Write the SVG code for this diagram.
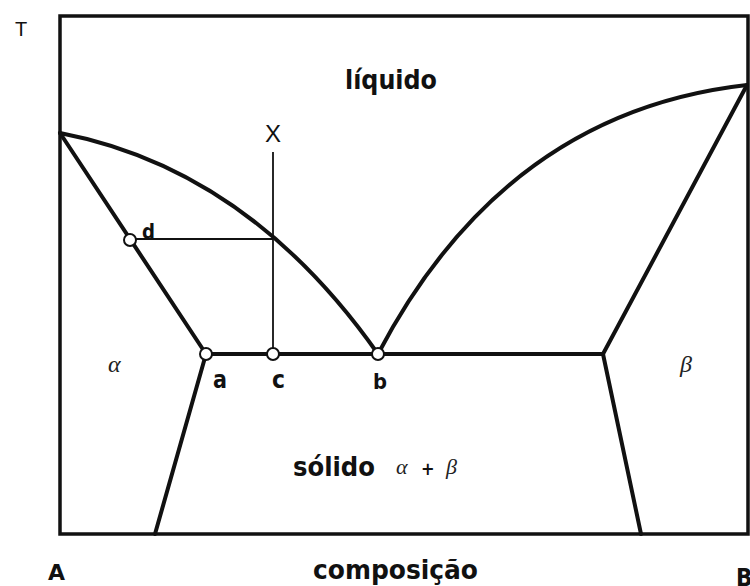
<svg xmlns="http://www.w3.org/2000/svg" width="750" height="586" viewBox="0 0 750 586">
<style>
.thick{fill:none;stroke:#111;stroke-width:4;stroke-linecap:round;stroke-linejoin:round}
.frame{fill:none;stroke:#111;stroke-width:3.5}
.thin{fill:none;stroke:#111;stroke-width:1.8}
.pt{fill:#fff;stroke:#111;stroke-width:2}
.lbl{font-family:"DejaVu Sans Condensed","DejaVu Sans",sans-serif;font-weight:bold;fill:#111}
.greek{font-family:"Liberation Serif",serif;font-style:italic;fill:#222}
.plain{font-family:"Liberation Sans",sans-serif;fill:#111}
</style>
<rect width="750" height="586" fill="#fff"/>
<g id="frame">
<path class="frame" d="M60,16 H748 V534 H60 Z"/>
</g>
<g id="connectors">
<path id="liquidus-left" class="thick" d="M60,133 Q248,169 378,354"/>
<path id="liquidus-right" class="thick" d="M378,354 Q505,112 747,85"/>
<path id="solidus-left" class="thick" d="M60,133 L206,354"/>
<path id="solidus-right" class="thick" d="M603,354 L747,85"/>
<path id="eutectic" class="thick" d="M206,354 H603"/>
<path id="solvus-left" class="thick" d="M206,354 L155,534"/>
<path id="solvus-right" class="thick" d="M603,354 L641,534"/>
<path id="x-line" class="thin" d="M273,152 V354"/>
<path id="tie-line" class="thin" d="M130,239 H273"/>
</g>
<g id="point-d"><circle class="pt" cx="130" cy="240" r="6"/><text class="lbl" x="142" y="239" font-size="22" textLength="13" lengthAdjust="spacingAndGlyphs">d</text></g>
<g id="point-a"><circle class="pt" cx="206" cy="354" r="6"/><text class="lbl" x="213" y="388" font-size="24" textLength="14" lengthAdjust="spacingAndGlyphs">a</text></g>
<g id="point-c"><circle class="pt" cx="273" cy="354" r="6"/><text class="lbl" x="272" y="388" font-size="24" textLength="13" lengthAdjust="spacingAndGlyphs">c</text></g>
<g id="point-b"><circle class="pt" cx="378" cy="354" r="6"/><text class="lbl" x="373" y="389" font-size="22" textLength="14" lengthAdjust="spacingAndGlyphs">b</text></g>
<g id="label-x"><text class="plain" x="273" y="142" font-size="24" text-anchor="middle">X</text></g>
<g id="label-liquido"><text class="lbl" x="345" y="89" font-size="26" textLength="92" lengthAdjust="spacingAndGlyphs">líquido</text></g>
<g id="label-alpha"><text class="greek" x="108" y="372" font-size="24">α</text></g>
<g id="label-beta"><text class="greek" x="680" y="372" font-size="24">β</text></g>
<g id="label-solido"><text class="lbl" x="293" y="476" font-size="26" textLength="82" lengthAdjust="spacingAndGlyphs">sólido</text><text class="greek" x="396" y="474" font-size="22">α</text><text class="lbl" x="421" y="475" font-size="18">+</text><text class="greek" x="446" y="474" font-size="22">β</text></g>
<g id="axis-labels">
<text class="plain" x="15" y="36" font-size="20">T</text>
<text class="lbl" x="48" y="580" font-size="22" textLength="17" lengthAdjust="spacingAndGlyphs">A</text>
<text class="lbl" x="313" y="579" font-size="26" textLength="165" lengthAdjust="spacingAndGlyphs">composição</text>
<text class="lbl" x="736" y="586" font-size="24">B</text>
</g>
</svg>
